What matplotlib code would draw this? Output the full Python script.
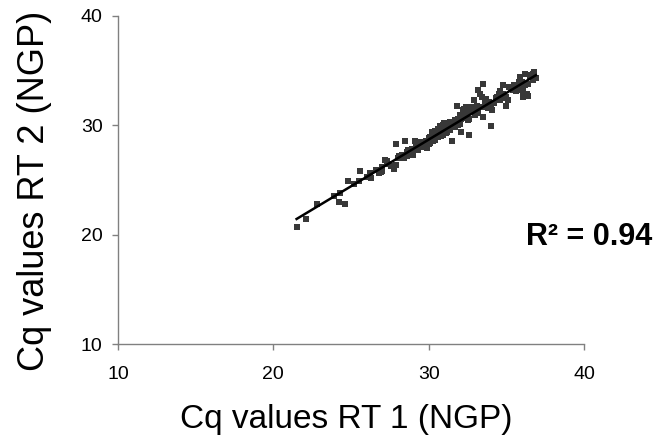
import numpy as np
import matplotlib
matplotlib.use('Agg')
import matplotlib.pyplot as plt

plt.rcParams['font.family'] = ['Liberation Sans', 'DejaVu Sans']

# Cq values
rt1 = [21.5, 22.1, 22.8, 23.9, 24.2, 24.6, 24.3, 24.8, 25.2, 25.6,
       26.2, 26.3, 26.9, 27.2, 27.3, 27.8, 27.9, 28.0, 27.9, 28.5,
       28.2, 28.6, 28.8, 29.0, 29.1, 29.2, 29.4, 29.5, 29.9, 30.0,
       30.1, 30.2, 30.3, 30.4, 30.5, 30.6, 30.7, 30.8, 30.9, 31.0,
       31.1, 31.2, 31.4, 31.5, 31.6, 31.7, 31.8, 31.9, 32.0, 32.1,
       32.2, 32.3, 32.4, 32.5, 32.6, 32.7, 32.9, 33.1, 33.2, 33.3,
       33.4, 33.5, 33.5, 33.6, 33.7, 33.8, 33.9, 34.0, 34.1, 34.2,
       34.5, 34.6, 34.7, 34.8, 35.0, 35.1, 35.2, 35.4, 35.5, 35.8,
       35.9, 36.0, 36.1, 36.2, 36.2, 36.4, 36.5, 36.7, 36.8, 36.3,
       36.1,
       26.6, 27.0, 27.4, 27.6, 28.1, 28.4, 28.7, 29.0, 29.3, 29.6,
       29.8, 30.0, 30.2, 30.4, 30.6, 30.8, 31.0, 31.2, 31.5, 31.9,
       32.2, 32.6, 32.9, 33.2, 33.6, 34.0, 34.4, 34.9, 35.3, 35.7,
       36.0, 36.4, 36.6, 36.9, 25.5, 26.0,
       28.3, 28.9, 29.3, 29.7, 30.1, 30.5, 30.9, 31.3, 31.7, 32.1,
       32.5, 32.8, 33.0, 33.4, 33.8, 34.3, 34.8, 35.6, 36.5, 30.0,
       30.6, 31.1, 31.6, 32.0, 32.4, 33.0, 33.7, 35.0, 35.9, 36.7,
       27.0, 26.8, 25.2, 28.6, 29.5, 30.3, 31.4, 33.9, 34.6, 36.2]
rt2 = [20.7, 21.4, 22.8, 23.5, 23.0, 22.8, 23.8, 24.9, 24.6, 25.8,
       25.6, 25.2, 25.7, 26.8, 26.7, 26.0, 26.4, 27.0, 28.3, 28.6,
       27.1, 27.6, 27.7, 27.3, 28.6, 28.2, 28.3, 28.5, 27.9, 28.6,
       28.9, 29.4, 29.1, 29.5, 28.9, 29.7, 29.9, 29.4, 30.0, 30.2,
       29.7, 29.5, 30.3, 28.6, 29.9, 30.5, 31.8, 30.6, 30.9, 29.4,
       31.4, 31.5, 31.7, 31.2, 29.1, 31.7, 32.3, 31.8, 33.2, 32.9,
       32.6, 30.8, 33.8, 32.1, 32.4, 31.7, 32.0, 29.9, 31.4, 32.0,
       32.9, 33.1, 32.6, 33.7, 31.8, 32.3, 33.5, 33.2, 33.7, 34.0,
       34.4, 33.4, 33.1, 33.7, 34.7, 32.7, 34.6, 34.7, 34.9, 32.9,
       32.6,
       25.9, 25.8, 26.5, 26.3, 27.2, 27.0, 27.7, 27.5, 28.2, 28.0,
       28.6, 28.3, 29.0, 28.7, 29.3, 29.0, 29.7, 29.4, 30.1, 30.0,
       30.7, 30.6, 31.3, 31.1, 31.9, 31.8, 32.6, 32.5, 33.4, 33.2,
       34.0, 33.8, 34.4, 34.3, 24.9, 25.3,
       27.3, 27.8, 27.7, 28.5, 28.4, 29.2, 29.1, 29.9, 29.8, 30.6,
       30.5, 31.2, 30.9, 31.7, 31.6, 32.5, 32.9, 33.1, 34.4, 28.8,
       28.9, 29.3, 30.2, 30.1, 30.9, 31.4, 32.0, 32.6, 33.9, 34.1,
       26.2, 25.6, 24.6, 27.2, 28.3, 28.6, 29.6, 32.1, 32.3, 33.7]
r2_label = 'R² = 0.94'
ticks = [10, 20, 30, 40]

x = np.array(rt1)
y = np.array(rt2)

fig = plt.figure(figsize=(6.66, 4.38), dpi=100)
ax = fig.add_axes([0.177, 0.2146, 0.70, 0.749])

ax.scatter(x, y, marker='s', s=20, color='#383838', linewidths=0, zorder=3)

# linear trend line over the data range
slope, icept = np.polyfit(x, y, 1)
xl = np.array([x.min(), x.max()])
ax.plot(xl, slope * xl + icept, color='black', lw=1.8, zorder=4)

ax.set_xlim(10, 40)
ax.set_ylim(10, 40)
ax.set_xticks(ticks)
ax.set_yticks(ticks)
for s in ['top', 'right']:
    ax.spines[s].set_visible(False)
for s in ['left', 'bottom']:
    ax.spines[s].set_color('#808080')
    ax.spines[s].set_linewidth(1.0)
ax.tick_params(direction='out', length=4, width=1, color='#808080',
               labelsize=14)
ax.tick_params(axis='y', pad=7)
ax.tick_params(axis='x', pad=12)

ax.set_xlabel('Cq values RT 1 (NGP)', fontsize=24)
ax.set_ylabel('Cq values RT 2 (NGP)', fontsize=26)
ax.xaxis.set_label_coords(0.489, -0.183)
ax.yaxis.set_label_coords(-0.142, 0.466)

fig.text(0.79, 0.458, r2_label, fontsize=22, fontweight='bold',
         ha='left', va='center')

fig.savefig('out.png', dpi=100)
